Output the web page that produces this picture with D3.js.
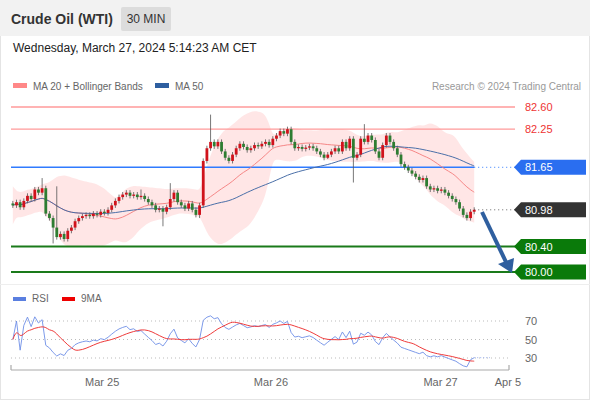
<!DOCTYPE html>
<html><head><meta charset="utf-8">
<script src="https://cdn.jsdelivr.net/npm/d3@7"></script>
<style>body{margin:0;background:#fff;font-family:"Liberation Sans",Arial,sans-serif}</style>
</head><body><svg id="c" width="590" height="400"></svg>
<script>
const closes=[81.05,81.10,81.02,81.12,81.20,81.15,81.30,81.25,81.32,
80.92,
80.85,80.70,80.55,80.60,80.52,80.65,
80.70,80.80,80.85,80.88,80.90,
80.88,80.92,80.90,80.95,80.93,80.98,81.05,
81.12,81.18,81.22,
81.25,81.20,81.22,81.18,81.20,81.15,81.10,81.05,
80.98,81.00,80.95,81.02,
81.15,81.25,81.10,
81.05,81.00,81.08,80.98,80.90,81.05,
81.75,81.95,82.05,
81.98,82.05,81.90,81.80,81.75,81.85,81.95,
82.02,81.97,81.92,81.95,82.00,81.98,82.02,82.05,82.00,82.10,82.15,82.22,82.18,82.25,
82.05,81.95,81.97,
81.94,81.96,81.98,81.95,81.90,81.85,81.80,81.85,81.90,81.95,81.90,
82.05,81.95,82.10,81.80,81.85,
82.10,82.05,82.15,82.08,
81.90,81.80,82.00,
82.15,82.05,81.95,
81.85,81.70,81.65,81.60,
81.55,81.50,81.45,81.48,
81.35,81.30,81.32,81.28,81.30,
81.25,81.20,81.15,81.10,
81.00,80.90,80.85,80.95,80.98];
const firstOpen=81.08;
const wick=0.04;
const spikeHighs=[[8,81.48],[12,81.35],[43,81.40],[54,82.48],[96,82.33],[35,81.30]];
const spikeLows=[[11,80.45],[14,80.48],[41,80.72],[51,80.85],[93,81.41],[86,81.78]];
const levels=[{v:82.60,t:"82.60",kind:"red"},{v:82.25,t:"82.25",kind:"red"},{v:81.65,t:"81.65",kind:"blue"},{v:80.98,t:"80.98",kind:"last"},{v:80.40,t:"80.40",kind:"green"},{v:80.00,t:"80.00",kind:"green"}];
const timeTicks=[{i:24.4,t:"Mar 25"},{i:70.5,t:"Mar 26"},{i:116.8,t:"Mar 27"},{i:135.2,t:"Apr 5"}];
const rsiTicks=[70,50,30];

const svg=d3.select("#c");
svg.append("rect").attr("x",0.5).attr("y",0.5).attr("width",589).attr("height",399).attr("fill","#fff").attr("stroke","#e4e4e4");
svg.append("rect").attr("x",0).attr("y",0).attr("width",590).attr("height",36).attr("fill","#f2f2f2");
svg.append("text").attr("x",11).attr("y",24).attr("font-size",14).attr("font-weight","bold").attr("fill","#333").text("Crude Oil (WTI)");
svg.append("rect").attr("x",121).attr("y",7).attr("width",50).attr("height",24).attr("fill","#dcdcdc").attr("rx",2);
svg.append("text").attr("x",146).attr("y",23).attr("text-anchor","middle").attr("font-size",12).attr("fill","#333").text("30 MIN");
svg.append("text").attr("x",13).attr("y",52).attr("font-size",12).attr("fill","#222").text("Wednesday, March 27, 2024 5:14:23 AM CET");
svg.append("line").attr("x1",0).attr("x2",590).attr("y1",284.5).attr("y2",284.5).attr("stroke","#eee");

svg.append("rect").attr("x",13).attr("y",83).attr("width",14).attr("height",5).attr("fill","#f88");
svg.append("text").attr("x",33).attr("y",90).attr("font-size",10).attr("fill","#666").text("MA 20 + Bollinger Bands");
svg.append("rect").attr("x",155).attr("y",83).attr("width",14).attr("height",5).attr("fill","#2e5fa0");
svg.append("text").attr("x",175).attr("y",90).attr("font-size",10).attr("fill","#666").text("MA 50");
svg.append("text").attr("x",581).attr("y",90).attr("text-anchor","end").attr("font-size",10).attr("fill","#999").text("Research © 2024 Trading Central");

const n=closes.length;
const x=d3.scaleLinear().domain([-0.5,135.5]).range([11,509]);
const y=d3.scaleLinear().domain([80,82.6]).range([272,107]);
const bw=2.8;
const opens=closes.map((c,i)=>i?closes[i-1]:firstOpen);
const highs=closes.map((c,i)=>Math.max(c,opens[i])+wick);
const lows=closes.map((c,i)=>Math.min(c,opens[i])-wick);
spikeHighs.forEach(([i,v])=>highs[i]=v);
spikeLows.forEach(([i,v])=>lows[i]=v);

function ma(arr,p){return arr.map((_,i)=>{const s=arr.slice(Math.max(0,i-p+1),i+1);return d3.mean(s);});}
const ma20=ma(closes,20), ma50=ma(closes,50);
const sd20=closes.map((_,i)=>{const s=closes.slice(Math.max(0,i-19),i+1);return s.length>1?d3.deviation(s):0.15;});
const bb=closes.map((_,i)=>({i,u:ma20[i]+2*Math.max(sd20[i],0.1),l:ma20[i]-2*Math.max(sd20[i],0.1)}));

svg.append("path").datum(bb).attr("fill","#ffe3e3").attr("opacity",0.9)
 .attr("d",d3.area().curve(d3.curveBasis).x(d=>x(d.i)).y0(d=>y(d.l)).y1(d=>y(d.u)));

const col={red:"#ff9a9a",blue:"#2f7bff",last:"#333",green:"#1a7a1a"};
levels.forEach(L=>{
  const yy=y(L.v);
  if(L.kind==="last"){
    svg.append("line").attr("x1",x(n-1)).attr("x2",516).attr("y1",yy).attr("y2",yy).attr("stroke","#666").attr("stroke-dasharray","1,3");
  } else {
    svg.append("line").attr("x1",11).attr("x2",L.kind==="blue"?x(n-1):(L.kind==="red"?515:516)).attr("y1",yy).attr("y2",yy)
     .attr("stroke",col[L.kind]).attr("stroke-width",L.kind==="green"?2:(L.kind==="blue"?1.4:1.3));
    if(L.kind==="blue") svg.append("line").attr("x1",x(n-1)).attr("x2",516).attr("y1",yy).attr("y2",yy).attr("stroke","#2f7bff").attr("stroke-dasharray","1,3");
  }
  if(L.kind==="red"){
    svg.append("text").attr("x",525).attr("y",yy+4).attr("font-size",11).attr("fill","#e33").text(L.t);
  } else {
    const fill=L.kind==="blue"?"#2a6ef0":L.kind==="last"?"#333":"#0a7a0a";
    svg.append("path").attr("d",`M514,${yy} L521,${yy-7.5} L586,${yy-7.5} L586,${yy+7.5} L521,${yy+7.5} Z`).attr("fill",fill);
    svg.append("text").attr("x",525).attr("y",yy+4).attr("font-size",11).attr("fill","#fff").text(L.t);
  }
});

svg.append("path").datum(ma20).attr("fill","none").attr("stroke","#f47c7c").attr("stroke-width",0.9)
 .attr("d",d3.line().curve(d3.curveBasis).x((d,i)=>x(i)).y(d=>y(d)));
svg.append("path").datum(ma50).attr("fill","none").attr("stroke","#4a6fa8").attr("stroke-width",1)
 .attr("d",d3.line().curve(d3.curveBasis).x((d,i)=>x(i)).y(d=>y(d)));

const g=svg.append("g");
closes.forEach((c,i)=>{
  const o=opens[i], up=c>=o;
  g.append("line").attr("x1",x(i)).attr("x2",x(i)).attr("y1",y(highs[i])).attr("y2",y(lows[i])).attr("stroke","#555").attr("stroke-width",0.8);
  g.append("rect").attr("x",x(i)-bw/2).attr("width",bw).attr("y",y(Math.max(o,c))).attr("height",Math.max(1,Math.abs(y(o)-y(c))))
   .attr("fill",up?"#d0121b":"#2e7d32");
});

svg.append("line").attr("x1",482).attr("y1",212).attr("x2",506).attr("y2",262).attr("stroke","#2f5f9f").attr("stroke-width",4);
svg.append("path").attr("d","M498,264 L514,258 L512,273 Z").attr("fill","#2f5f9f");

const rsi=[];let ag=0,al=0;
closes.forEach((c,i)=>{
  if(i===0){rsi.push(50);return;}
  const d=c-closes[i-1];const k=Math.min(i,14);
  ag=(ag*(k-1)+Math.max(d,0))/k; al=(al*(k-1)+Math.max(-d,0))/k;
  rsi.push(al===0?70:100-100/(1+ag/al));
});
const rsiMa=ma(rsi,9);
const yr=d3.scaleLinear().domain([30,70]).range([358,321]);
svg.append("rect").attr("x",13).attr("y",297).attr("width",13).attr("height",4).attr("fill","#5a7fe0");
svg.append("text").attr("x",32).attr("y",302).attr("font-size",10).attr("fill","#666").text("RSI");
svg.append("rect").attr("x",62).attr("y",297).attr("width",13).attr("height",4).attr("fill","#e00");
svg.append("text").attr("x",81).attr("y",302).attr("font-size",10).attr("fill","#666").text("9MA");
rsiTicks.forEach(t=>{
  svg.append("line").attr("x1",11).attr("x2",509).attr("y1",yr(t)).attr("y2",yr(t)).attr("stroke","#bbb").attr("stroke-dasharray","1,3");
  svg.append("text").attr("x",525).attr("y",yr(t)+4).attr("font-size",11).attr("fill","#666").text(t);
});
svg.append("path").datum(rsi).attr("fill","none").attr("stroke","#6e8fe6").attr("stroke-width",0.9)
 .attr("d",d3.line().x((d,i)=>x(i)).y(d=>yr(d)));
svg.append("line").attr("x1",x(n-1)).attr("x2",490).attr("y1",yr(rsi[n-1])).attr("y2",yr(rsi[n-1])).attr("stroke","#9ab0ee").attr("stroke-dasharray","1,2");
svg.append("path").datum(rsiMa).attr("fill","none").attr("stroke","#ef3b3b").attr("stroke-width",1)
 .attr("d",d3.line().curve(d3.curveBasis).x((d,i)=>x(i)).y(d=>yr(d)));

const ax=svg.append("g").attr("transform","translate(0,370)");
ax.append("line").attr("x1",11).attr("x2",509).attr("stroke","#aaa").attr("stroke-width",1.2);
[11,509].forEach(p=>ax.append("line").attr("x1",p).attr("x2",p).attr("y1",0).attr("y2",-5).attr("stroke","#aaa").attr("stroke-width",1.2));
timeTicks.forEach(t=>ax.append("text").attr("x",x(t.i)).attr("y",16).attr("text-anchor","middle").attr("font-size",11).attr("fill","#666").text(t.t));
</script></body></html>
